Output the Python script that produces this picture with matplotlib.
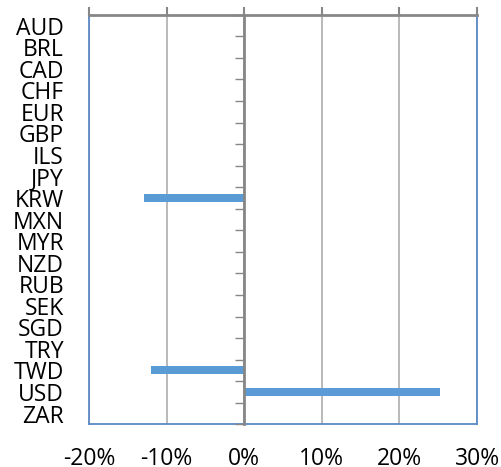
import numpy as np
import matplotlib.pyplot as plt
from matplotlib.ticker import FuncFormatter

# currency changes (fraction), drawn top to bottom
currencies = ["AUD", "BRL", "CAD", "CHF", "EUR", "GBP", "ILS", "JPY", "KRW",
              "MXN", "MYR", "NZD", "RUB", "SEK", "SGD", "TRY", "TWD", "USD", "ZAR"]
changes = [0, 0, 0, 0, 0, 0, 0, 0, -0.129,
           0, 0, 0, 0, 0, 0, 0, -0.12, 0.252, 0]
x_ticks = [-0.2, -0.1, 0.0, 0.1, 0.2, 0.3]

plt.rcParams['font.family'] = ['Open Sans', 'DejaVu Sans']

blue_border = '#5B8AC6'
axis_gray = '#878787'
grid_gray = '#A6A6A6'

fig = plt.figure(figsize=(5.01, 4.67), dpi=100)
ax = fig.add_axes([0.1776, 0.0914, 0.7745, 0.877])

pos = np.arange(len(currencies))
ax.barh(pos, changes, height=0.37, color='#5B9BD5', zorder=3)

ax.set_xlim(x_ticks[0], x_ticks[-1])
ax.set_ylim(len(currencies) - 0.5, -0.5)

ax.set_xticks(x_ticks)
ax.xaxis.set_major_formatter(FuncFormatter(lambda v, _: f"{v * 100:.0f}%"))
ax.set_axisbelow(True)
ax.xaxis.grid(True, color=grid_gray, linewidth=1.1)

ax.set_yticks(pos)
ax.set_yticklabels(currencies)

# ticks on the top line, labels kept at the bottom / left edges
ax.tick_params(axis='x', top=True, bottom=False, labeltop=False, labelbottom=True,
               direction='out', length=6, width=1.5, color=axis_gray,
               labelsize=16.5, pad=10.3)
ax.tick_params(axis='y', left=False, length=0, pad=18, labelsize=16.5)

for side in ('left', 'right', 'bottom'):
    ax.spines[side].set_color(blue_border)
    ax.spines[side].set_linewidth(1.3)
ax.spines['top'].set_color(axis_gray)
ax.spines['top'].set_linewidth(2)

# category axis crossing at 0 with boundary ticks
ax2 = ax.twinx()
ax2.set_ylim(ax.get_ylim())
ax2.spines['right'].set_position(('data', 0))
ax2.spines['right'].set_color(axis_gray)
ax2.spines['right'].set_linewidth(2)
for side in ('left', 'top', 'bottom'):
    ax2.spines[side].set_visible(False)
ax2.set_yticks(np.arange(-0.5, len(currencies), 1))
ax2.tick_params(axis='y', direction='in', length=6.5, width=1, color=axis_gray,
                labelright=False)

fig.savefig('out.png', dpi=100)
